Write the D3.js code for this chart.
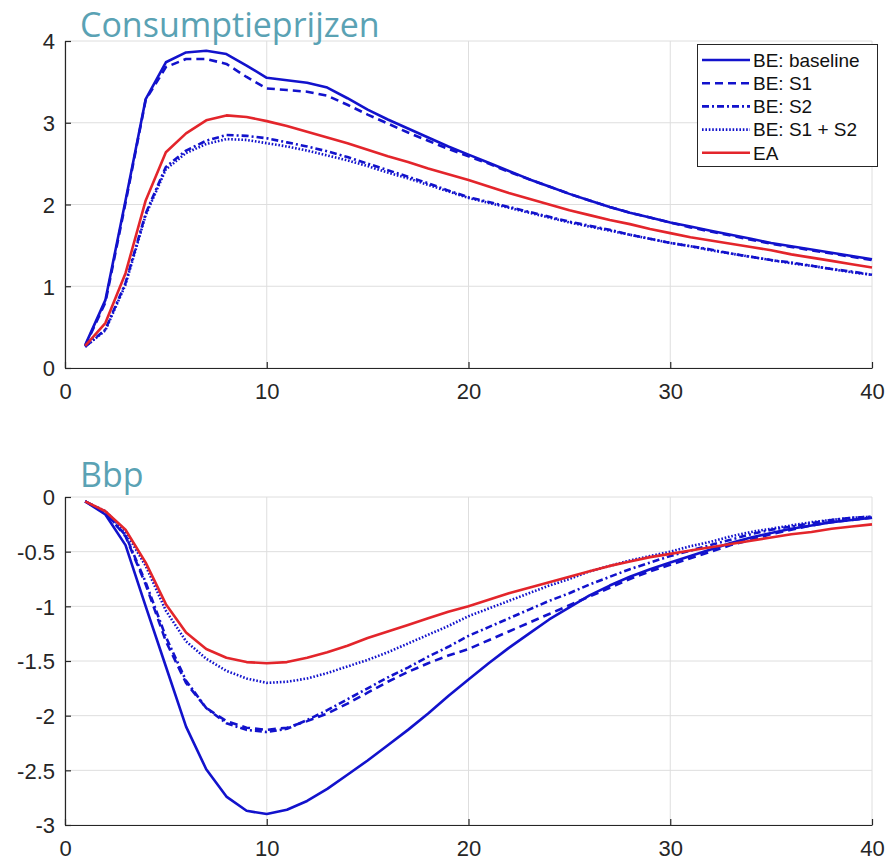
<!DOCTYPE html>
<html>
<head>
<meta charset="utf-8">
<script src="https://cdn.jsdelivr.net/npm/d3@7"></script>
<style>
  body { margin: 0; background: #fff; }
  .tick text { font-family: 'Liberation Sans', Arial, sans-serif; font-size: 22px; fill: #262626; }
  .title { font-family: 'Open Sans', 'Noto Sans', sans-serif; fill: #5aa2b4; }
  .legend text { font-family: 'Liberation Sans', Arial, sans-serif; font-size: 19px; fill: #111; }
</style>
</head>
<body>
<svg id="chart" width="889" height="860"></svg>
<script>
const QUARTERS = d3.range(1, 41)
const X_TICKS = [0, 10, 20, 30, 40]
const SERIES_NAMES = ['BE: baseline', 'BE: S1', 'BE: S2', 'BE: S1 + S2', 'EA']

// Consumptieprijzen
const CPI_TICKS = [0, 1, 2, 3, 4]
const cpiBase = [0.28, 0.83, 2.05, 3.29, 3.74, 3.86, 3.88, 3.84, 3.70, 3.55, 3.52, 3.49, 3.43, 3.30, 3.16, 3.04, 2.93, 2.82, 2.71, 2.61,
  2.51, 2.41, 2.31, 2.22, 2.13, 2.05, 1.97, 1.90, 1.84, 1.78, 1.73, 1.68, 1.63, 1.58, 1.53, 1.49, 1.45, 1.41, 1.37, 1.33]
const cpiS1 = [0.27, 0.80, 2.02, 3.28, 3.68, 3.78, 3.78, 3.72, 3.56, 3.42, 3.40, 3.38, 3.33, 3.22, 3.10, 2.99, 2.88, 2.78, 2.68, 2.59,
  2.50, 2.40, 2.31, 2.22, 2.13, 2.05, 1.97, 1.90, 1.84, 1.78, 1.72, 1.67, 1.62, 1.57, 1.52, 1.48, 1.44, 1.40, 1.36, 1.32]
const cpiS2 = [0.26, 0.47, 1.04, 1.89, 2.46, 2.66, 2.78, 2.85, 2.84, 2.81, 2.76, 2.71, 2.65, 2.58, 2.50, 2.42, 2.34, 2.26, 2.17, 2.09,
  2.03, 1.97, 1.91, 1.85, 1.79, 1.74, 1.69, 1.63, 1.58, 1.53, 1.49, 1.45, 1.40, 1.36, 1.32, 1.29, 1.25, 1.21, 1.18, 1.14]
const cpiS12 = [0.26, 0.46, 1.02, 1.87, 2.43, 2.63, 2.74, 2.80, 2.79, 2.75, 2.71, 2.66, 2.60, 2.54, 2.47, 2.39, 2.32, 2.24, 2.16, 2.08,
  2.02, 1.96, 1.90, 1.84, 1.78, 1.73, 1.68, 1.63, 1.58, 1.53, 1.49, 1.44, 1.40, 1.36, 1.32, 1.28, 1.25, 1.21, 1.17, 1.14]
const cpiEA = [0.27, 0.55, 1.16, 2.05, 2.64, 2.87, 3.03, 3.09, 3.07, 3.02, 2.96, 2.89, 2.82, 2.75, 2.67, 2.59, 2.52, 2.44, 2.37, 2.30,
  2.22, 2.14, 2.07, 2.00, 1.93, 1.87, 1.81, 1.76, 1.70, 1.65, 1.60, 1.56, 1.52, 1.48, 1.44, 1.39, 1.35, 1.31, 1.27, 1.23]

// Bbp
const GDP_TICKS = [-3, -2.5, -2, -1.5, -1, -0.5, 0]
const gdpBase = [-0.04, -0.16, -0.44, -1.00, -1.55, -2.10, -2.49, -2.74, -2.87, -2.90, -2.86, -2.78, -2.67, -2.54, -2.41, -2.27, -2.13, -1.98, -1.82, -1.67,
  -1.52, -1.38, -1.25, -1.12, -1.01, -0.90, -0.81, -0.73, -0.66, -0.60, -0.54, -0.48, -0.42, -0.37, -0.33, -0.29, -0.26, -0.23, -0.21, -0.19]
const gdpS1 = [-0.04, -0.14, -0.36, -0.80, -1.32, -1.70, -1.93, -2.05, -2.11, -2.13, -2.11, -2.05, -1.98, -1.89, -1.79, -1.69, -1.60, -1.52, -1.45, -1.39,
  -1.31, -1.23, -1.15, -1.07, -0.99, -0.91, -0.83, -0.75, -0.68, -0.62, -0.56, -0.50, -0.44, -0.39, -0.34, -0.30, -0.26, -0.23, -0.21, -0.19]
const gdpS2 = [-0.04, -0.14, -0.35, -0.78, -1.28, -1.68, -1.93, -2.07, -2.13, -2.15, -2.12, -2.04, -1.95, -1.85, -1.75, -1.65, -1.56, -1.46, -1.37, -1.27,
  -1.19, -1.11, -1.03, -0.95, -0.88, -0.80, -0.73, -0.66, -0.60, -0.54, -0.49, -0.44, -0.39, -0.34, -0.30, -0.27, -0.24, -0.21, -0.19, -0.18]
const gdpS12 = [-0.04, -0.13, -0.32, -0.63, -1.04, -1.32, -1.48, -1.59, -1.66, -1.70, -1.69, -1.66, -1.61, -1.55, -1.49, -1.42, -1.34, -1.26, -1.18, -1.09,
  -1.02, -0.95, -0.88, -0.81, -0.75, -0.68, -0.63, -0.58, -0.54, -0.50, -0.45, -0.41, -0.36, -0.32, -0.29, -0.26, -0.23, -0.21, -0.19, -0.18]
const gdpEA = [-0.04, -0.13, -0.30, -0.60, -0.98, -1.24, -1.39, -1.47, -1.51, -1.52, -1.51, -1.47, -1.42, -1.36, -1.29, -1.23, -1.17, -1.11, -1.05, -1.00,
  -0.94, -0.88, -0.83, -0.78, -0.73, -0.68, -0.63, -0.59, -0.55, -0.52, -0.49, -0.46, -0.43, -0.40, -0.37, -0.34, -0.32, -0.29, -0.27, -0.25]

const BLUE = '#1212cc'
const RED = '#e3252b'
const STYLES = [
  { color: BLUE, dash: null },
  { color: BLUE, dash: '8,5' },
  { color: BLUE, dash: '7,3,2,3' },
  { color: BLUE, dash: '1.6,1.8' },
  { color: RED, dash: null }
]
const LEFT = 65
const RIGHT = 872
const AXIS_COLOR = '#262626'

const svg = d3.select('#chart')

function panel(top, bottom, domain, ticks, seriesList, title, titleY, fmt) {
  const x = d3.scaleLinear().domain([0, 40]).range([LEFT, RIGHT])
  const y = d3.scaleLinear().domain(domain).range([bottom, top])
  const g = svg.append('g')

  // grid
  g.append('g')
    .selectAll('line')
    .data(X_TICKS)
    .join('line')
    .attr('x1', d => x(d)).attr('x2', d => x(d))
    .attr('y1', top).attr('y2', bottom)
    .attr('stroke', '#dedede').attr('stroke-width', 1)
  g.append('g')
    .selectAll('line')
    .data(ticks)
    .join('line')
    .attr('x1', LEFT).attr('x2', RIGHT)
    .attr('y1', d => y(d)).attr('y2', d => y(d))
    .attr('stroke', '#dedede').attr('stroke-width', 1)

  // axes, ticks pointing inward like matlab
  const xAxis = g.append('g')
    .attr('transform', `translate(0, ${bottom})`)
    .call(d3.axisBottom(x).tickValues(X_TICKS).tickSize(-6).tickPadding(11).tickSizeOuter(0))
  const yAxis = g.append('g')
    .attr('transform', `translate(${LEFT}, 0)`)
    .call(d3.axisLeft(y).tickValues(ticks).tickFormat(fmt).tickSize(-6).tickPadding(10).tickSizeOuter(0))
  for (const ax of [xAxis, yAxis]) {
    ax.select('.domain').attr('stroke', AXIS_COLOR).attr('stroke-width', 1.2)
    ax.selectAll('.tick line').attr('stroke', AXIS_COLOR).attr('stroke-width', 1.2)
  }
  xAxis.selectAll('.tick text').attr('dy', '0.9em')
  yAxis.selectAll('.tick text').attr('dy', '0.36em')

  const line = d3.line()
    .x((d, i) => x(QUARTERS[i]))
    .y(d => y(d))

  seriesList.forEach((values, i) => {
    g.append('path')
      .datum(values)
      .attr('d', line)
      .attr('fill', 'none')
      .attr('stroke', STYLES[i].color)
      .attr('stroke-width', 2.6)
      .attr('stroke-linejoin', 'round')
      .attr('stroke-dasharray', STYLES[i].dash)
  })

  svg.append('text')
    .attr('class', 'title')
    .attr('x', 80)
    .attr('y', titleY)
    .attr('font-size', 34)
    .text(title)
}

panel(41, 368, [0, 4], CPI_TICKS, [cpiBase, cpiS1, cpiS2, cpiS12, cpiEA], 'Consumptieprijzen', 37, d3.format('d'))
panel(497, 825, [-3, 0], GDP_TICKS, [gdpBase, gdpS1, gdpS2, gdpS12, gdpEA], 'Bbp', 487, d => String(d))

// legend
const legend = svg.append('g').attr('class', 'legend')
legend.append('rect')
  .attr('x', 697.5).attr('y', 44.5)
  .attr('width', 180).attr('height', 122)
  .attr('fill', '#fff').attr('stroke', AXIS_COLOR).attr('stroke-width', 1)
const rows = legend.selectAll('g')
  .data(SERIES_NAMES)
  .join('g')
  .attr('transform', (d, i) => `translate(0, ${60 + i * 23.2})`)
rows.append('line')
  .attr('x1', 702).attr('x2', 750)
  .attr('stroke', (d, i) => STYLES[i].color)
  .attr('stroke-width', 2.6)
  .attr('stroke-dasharray', (d, i) => STYLES[i].dash)
rows.append('text')
  .attr('x', 753)
  .attr('dy', '0.36em')
  .text(d => d)
</script>
</body>
</html>
